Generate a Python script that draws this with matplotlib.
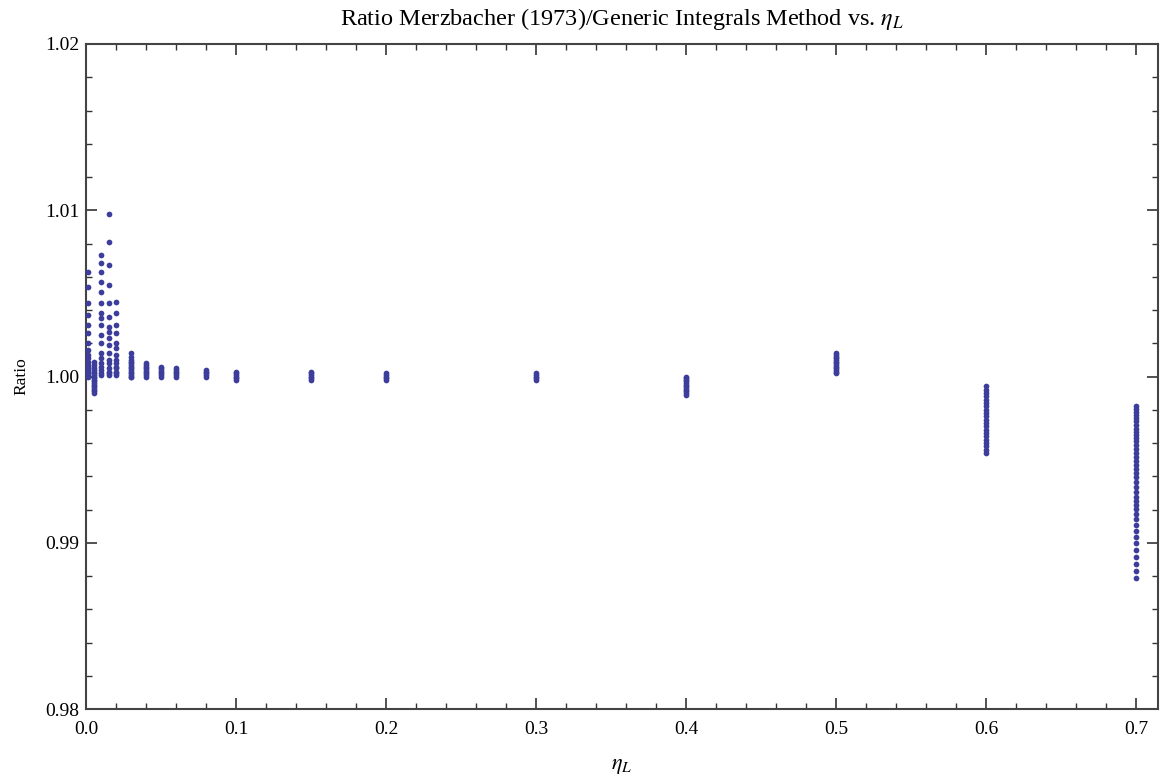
import matplotlib
matplotlib.use("Agg")
import matplotlib.pyplot as plt
from matplotlib.ticker import MultipleLocator, FixedLocator

plt.rcParams['font.family'] = ['Liberation Serif', 'DejaVu Serif']
plt.rcParams['mathtext.fontset'] = 'stix'

# eta_L values of each column of points
eta_values = [0.001, 0.005, 0.01, 0.015, 0.02, 0.03, 0.04, 0.05, 0.06, 0.08,
              0.1, 0.15, 0.2, 0.3, 0.4, 0.5, 0.6, 0.7]

col_0001 = [1.0063, 1.0054, 1.0044, 1.0037, 1.0031, 1.0026, 1.0020, 1.0016, 1.0013,
            1.0011, 1.0009, 1.0007, 1.0006, 1.0005, 1.0004, 1.0003, 1.0002, 1.0001, 1.0000]
col_0005 = [1.0009, 1.0007, 1.0005, 1.0004, 1.0003, 1.0002, 1.0001, 1.0000, 0.9999,
            0.9998, 0.9997, 0.9996, 0.9995, 0.9994, 0.9993, 0.9992, 0.9991, 0.9990]
col_001 = [1.0073, 1.0068, 1.0063, 1.0057, 1.0051, 1.0044, 1.0038, 1.0035, 1.0031,
           1.0025, 1.0020, 1.0014, 1.0011, 1.0008, 1.0006, 1.0004, 1.0002, 1.0001]
col_0015 = [1.0098, 1.0081, 1.0067, 1.0055, 1.0044, 1.0036, 1.0030, 1.0027, 1.0023,
            1.0019, 1.0014, 1.0010, 1.0008, 1.0005, 1.0003, 1.0002, 1.0001]
col_002 = [1.0045, 1.0038, 1.0031, 1.0026, 1.0020, 1.0017, 1.0013, 1.0010, 1.0008,
           1.0006, 1.0005, 1.0003, 1.0002, 1.0001]
col_003 = [1.0014, 1.0012, 1.0010, 1.0009, 1.0008, 1.0007, 1.0006, 1.0005, 1.0004,
           1.0003, 1.0002, 1.0001, 1.0000, 0.99995]
col_004 = [1.0008, 1.0007, 1.0006, 1.0005, 1.0004, 1.0003, 1.0002, 1.0001, 1.0000]
col_005 = [1.0006, 1.0005, 1.0004, 1.0003, 1.0002, 1.0001, 1.0000]
col_006 = [1.0005, 1.0004, 1.0003, 1.0002, 1.0001, 1.0000]
col_008 = [1.0004, 1.0003, 1.0002, 1.0001, 1.0000]
col_01 = [1.0003, 1.0002, 1.0001, 1.0000, 0.9999, 0.9998]
col_015 = [1.0003, 1.0002, 1.0001, 1.0000, 0.9999, 0.9998]
col_02 = [1.0002, 1.0001, 1.0000, 0.9999, 0.9998]
col_03 = [1.0002, 1.0001, 1.0000, 0.9999, 0.9998]
col_04 = [1.0000, 0.9999, 0.9998, 0.9997, 0.9996, 0.9995, 0.9994, 0.9993, 0.9992,
          0.9991, 0.9990, 0.9989]
col_05 = [1.0014, 1.0013, 1.0012, 1.0011, 1.0010, 1.0009, 1.0008, 1.0007, 1.0006,
          1.0005, 1.0004, 1.0003, 1.0002]
col_06 = [0.9994, 0.9992, 0.9990, 0.9988, 0.9986, 0.9984, 0.9982, 0.9980, 0.9978,
          0.9976, 0.9974, 0.9972, 0.9970, 0.9968, 0.9966, 0.9964, 0.9962, 0.9960,
          0.9958, 0.9956, 0.9954]
col_07 = [0.99825, 0.99807, 0.99789, 0.99771, 0.99753, 0.99735, 0.99711, 0.99687,
          0.99669, 0.99651, 0.99633, 0.99614, 0.99590, 0.99566, 0.99542, 0.99518,
          0.99494, 0.99470, 0.99446, 0.99422, 0.99398, 0.99367, 0.99337, 0.99307,
          0.99277, 0.99253, 0.99229, 0.99205, 0.99175, 0.99145, 0.99108, 0.99072,
          0.99036, 0.99000, 0.98958, 0.98916, 0.98874, 0.98831, 0.98789]

ratio_columns = [col_0001, col_0005, col_001, col_0015, col_002, col_003, col_004,
                 col_005, col_006, col_008, col_01, col_015, col_02, col_03, col_04,
                 col_05, col_06, col_07]

x_ticks = [0.0, 0.1, 0.2, 0.3, 0.4, 0.5, 0.6, 0.7]
x_tick_labels = ["0.0", "0.1", "0.2", "0.3", "0.4", "0.5", "0.6", "0.7"]
y_ticks = [0.98, 0.99, 1.00, 1.01, 1.02]
y_tick_labels = ["0.98", "0.99", "1.00", "1.01", "1.02"]

xs, ys = [], []
for eta, col in zip(eta_values, ratio_columns):
    for r in col:
        xs.append(eta)
        ys.append(r)

fig = plt.figure(figsize=(11.6, 7.82), dpi=100)
ax = fig.add_axes([86 / 1160, 1 - 709 / 782, (1158 - 86) / 1160, (709 - 44) / 782])

ax.scatter(xs, ys, s=17, color='#3d3d9c', linewidths=0, zorder=3, clip_on=False)

ax.set_xlim(0, (1158 - 86) / 1500)
ax.set_ylim(0.98, 1.02)

ax.xaxis.set_major_locator(FixedLocator(x_ticks))
ax.set_xticklabels(x_tick_labels)
ax.yaxis.set_major_locator(FixedLocator(y_ticks))
ax.set_yticklabels(y_tick_labels)
ax.xaxis.set_minor_locator(MultipleLocator(0.02))
ax.yaxis.set_minor_locator(MultipleLocator(0.002))

ax.tick_params(which='both', direction='in', top=True, right=True, labelsize=14,
               color='#333333')
ax.tick_params(axis='x', which='both', pad=9)
ax.tick_params(axis='y', which='both', pad=5)
ax.tick_params(which='major', length=8, width=1.2)
ax.tick_params(which='minor', length=4.5, width=1.0)
for sp in ax.spines.values():
    sp.set_linewidth(1.5)
    sp.set_color('#444444')

ax.set_title(r"Ratio Merzbacher (1973)/Generic Integrals Method vs. $\eta_L$",
             fontsize=17.5, pad=14)
ax.set_xlabel(r"$\eta_L$", fontsize=16)
ax.xaxis.set_label_coords(0.5, -0.072)
ax.set_ylabel("Ratio", fontsize=12.5)
ax.yaxis.set_label_coords(-0.053, 0.5)

fig.savefig("out.png", dpi=100)
